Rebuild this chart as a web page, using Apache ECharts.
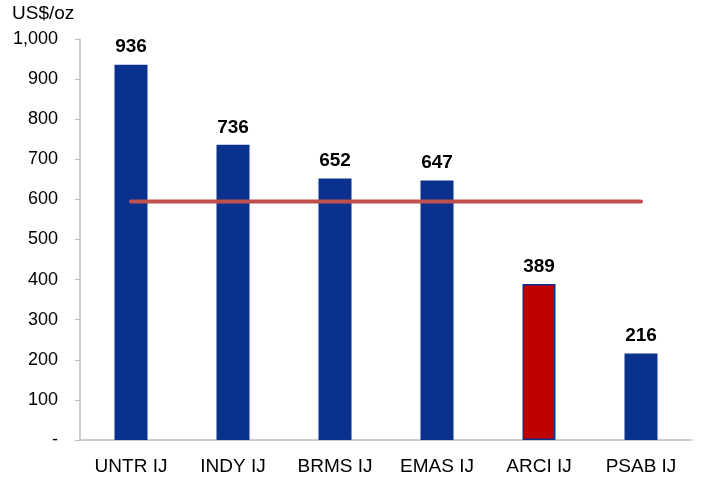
<!DOCTYPE html>
<html>
<head>
<meta charset="utf-8">
<script src="https://cdn.jsdelivr.net/npm/echarts@6/dist/echarts.min.js"></script>
<style>
  html, body { margin: 0; padding: 0; background: #fff; }
  #chart { width: 702px; height: 477px; }
</style>
</head>
<body>
<div id="chart"></div>
<script>
const tickers = ['UNTR IJ', 'INDY IJ', 'BRMS IJ', 'EMAS IJ', 'ARCI IJ', 'PSAB IJ']
const cashCost = [936, 736, 652, 647, 389, 216]
const highlight = 'ARCI IJ'
const peerAverage = 595

const blue = '#0B318F'
const red = '#C00000'
const font = 'Liberation Sans, Arial, sans-serif'

const chart = echarts.init(document.getElementById('chart'))
chart.setOption({
  animation: false,
  textStyle: { fontFamily: font },
  grid: { left: 80, right: 10, top: 39, bottom: 37 },
  graphic: [{
    type: 'text',
    left: 12,
    top: 4,
    style: { text: 'US$/oz', fontSize: 19, fill: '#000', fontFamily: font }
  }],
  xAxis: {
    type: 'category',
    data: tickers,
    axisLine: { lineStyle: { color: '#BFBFBF', width: 1.5 } },
    axisTick: { show: false },
    axisLabel: { color: '#000', fontSize: 19, margin: 17 }
  },
  yAxis: {
    type: 'value',
    min: 0,
    max: 1000,
    interval: 100,
    splitLine: { show: false },
    axisLine: { show: true, lineStyle: { color: '#BFBFBF', width: 1.5 } },
    axisTick: { show: true, length: 5, lineStyle: { color: '#BFBFBF' } },
    axisLabel: {
      color: '#000',
      fontSize: 18,
      margin: 22,
      formatter: (v) => v === 0 ? '-' : v.toLocaleString('en-US')
    }
  },
  series: [{
    type: 'bar',
    barWidth: 33,
    data: cashCost.map((v, i) => ({
      value: v,
      itemStyle: tickers[i] === highlight
        ? { color: red, borderColor: blue, borderWidth: 1.5 }
        : { color: blue }
    })),
    label: {
      show: true,
      position: 'top',
      distance: 8,
      color: '#000',
      fontSize: 19,
      fontWeight: 'bold'
    },
    z: 2
  }, {
    type: 'line',
    data: tickers.map(() => peerAverage),
    symbol: 'none',
    lineStyle: { color: '#C0504D', width: 4, cap: 'round' },
    z: 3
  }]
})
</script>
</body>
</html>
